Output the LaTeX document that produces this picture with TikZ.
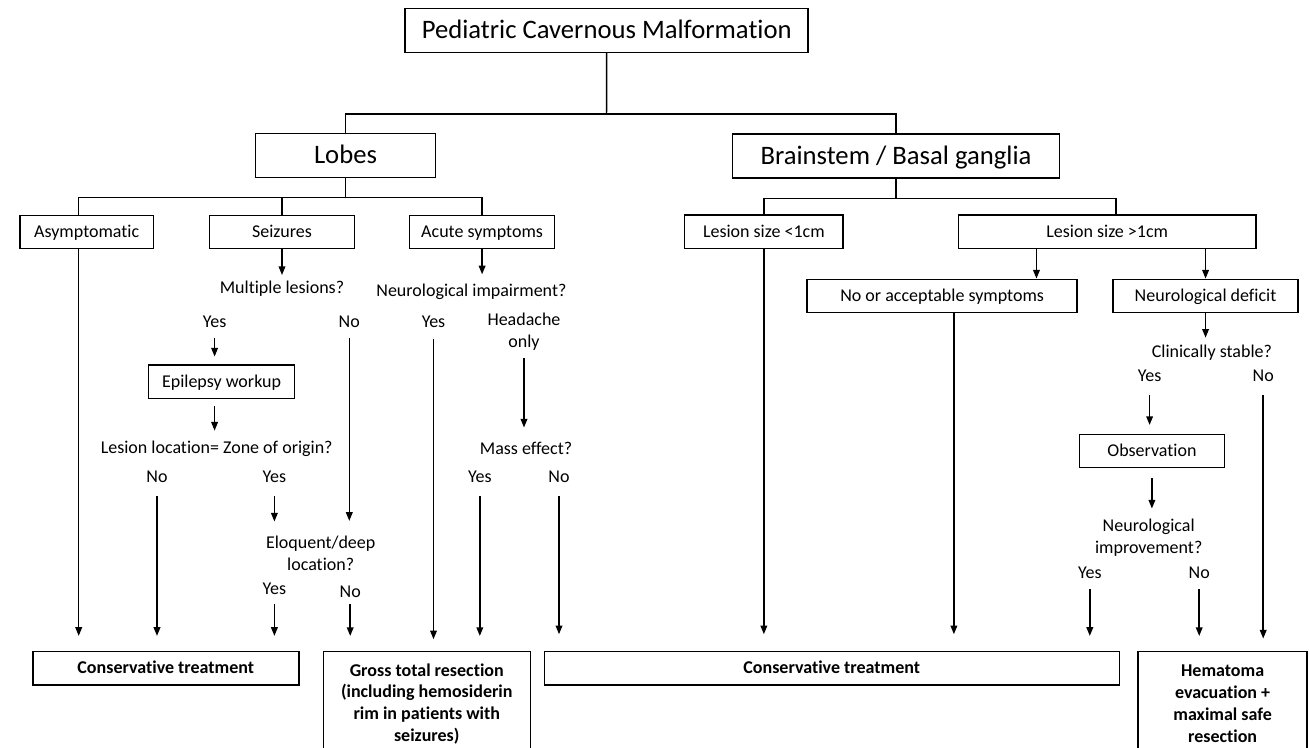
\documentclass[tikz,border=0pt]{standalone}
\usepackage{fontspec}
\setmainfont{Carlito}[Ligatures=NoCommon]
\usetikzlibrary{arrows.meta, positioning, calc}

\tikzset{
  box/.style={rectangle,draw,line width=1.1pt,inner sep=0pt,align=center},
  bigbox/.style={box,font=\fontsize{20}{24}\selectfont,minimum height=33pt,text height=15pt,text depth=2.4pt},
  smallbox/.style={box,font=\fontsize{13.5}{16.3}\selectfont,minimum height=25pt,text height=10.5pt,text depth=2pt},
  endbox/.style={box,font=\fontsize{13.5}{16.3}\selectfont\bfseries},
  question/.style={font=\fontsize{13.5}{16.3}\selectfont,align=center,inner sep=0pt},
  answer/.style={question,text height=10.5pt,text depth=2pt},
  conn/.style={line width=1.1pt},
  arr/.style={conn,-{Triangle[length=6.5pt,width=5pt]}}
}

\begin{document}
\begin{tikzpicture}[x=0.75pt,y=-0.75pt]
    \useasboundingbox (0,0) rectangle (1309,748);

    % Radice
    \node[bigbox,minimum width=302.25pt] (root) at (606.7,30.3) {Pediatric Cavernous Malformation};
    \node[bigbox,minimum width=135pt] (lobes) at (345.5,155.5) {Lobes};
    \node[bigbox,minimum width=245.25pt] (brain) at (896,155.8) {Brainstem / Basal ganglia};
    \coordinate (rootsplit) at (606.5,114);
    \draw[conn] (root.south) -- (rootsplit);
    \draw[conn] (lobes.north) |- (rootsplit) -| (brain.north);

    % Lobi
    \node[smallbox,minimum width=100.35pt] (asym) at (86.7,232) {Asymptomatic};
    \node[smallbox,minimum width=108.6pt] (seiz) at (282,232) {Seizures};
    \node[smallbox,minimum width=108.9pt] (acute) at (482.1,232) {Acute symptoms};
    \coordinate (lobesplit) at (345.5,197.7);
    \draw[conn] (lobes.south) -- (lobesplit);
    \draw[conn] ([xshift=-6pt]asym.north) |- (lobesplit) -| (acute.north);
    \draw[conn] (seiz.north) -- (seiz.north |- lobesplit);

    % Tronco / gangli
    \node[smallbox,minimum width=119pt] (small) at (763.85,231.7) {Lesion size <1cm};
    \node[smallbox,minimum width=223.1pt] (large) at (1107.25,231.7) {Lesion size >1cm};
    \coordinate (brainsplit) at (896,198.3);
    \draw[conn] (brain.south) -- (brainsplit);
    \draw[conn] (small.north) |- (brainsplit) -| ([xshift=6.5pt]large.north);

    % Trattamenti
    \node[endbox,minimum width=199.5pt,minimum height=25pt,text height=10.5pt,text depth=2pt] (cons1) at (165.8,668.3) {Conservative treatment};
    \node[endbox,minimum width=155.25pt,minimum height=78pt] (gtr) at (426.75,703.7) {Gross total resection\\(including hemosiderin\\rim in patients with\\seizures)};
    \node[endbox,minimum width=431.25pt,minimum height=25pt,text height=10.5pt,text depth=2pt] (cons2) at (831.75,668.3) {Conservative treatment};
    \node[endbox,minimum width=126.6pt,minimum height=78pt] (hema) at (1222.6,703.7) {Hematoma\\evacuation +\\maximal safe\\resection};

    % Asintomatico
    \draw[arr,shorten >=11.25pt] ([xshift=-6pt]asym.south) -- ([xshift=-6pt]asym.south |- cons1.north);

    % Crisi
    \node[question] (mult) at (282,288.3) {Multiple lesions?};
    \node[answer] (yesM) at (214.6,321.7) {Yes};
    \node[answer] (noM) at (349.3,321.7) {No};
    \node[smallbox,minimum width=109.5pt] (epi) at (221.6,381.7) {Epilepsy workup};
    \node[question] (loc) at (216.7,448.3) {Lesion location= Zone of origin?};
    \node[answer] (noL) at (157,476.7) {No};
    \node[answer] (yesL) at (274.4,476.7) {Yes};
    \node[question] (eloq) at (320.7,553) {Eloquent/deep\\location?};
    \node[answer] (yesE) at (274.4,589.3) {Yes};
    \node[answer] (noE) at (350.2,592) {No};

    \draw[arr,shorten >=4pt] (seiz) -- (mult);
    \draw[arr,shorten <=6pt,shorten >=5.8pt] (yesM.south) -- (yesM.south |- epi.north);
    \draw[arr,shorten <=6pt,shorten >=11pt] (noM.south) -- (noM.south |- eloq.north);
    \draw[arr,shorten <=5.5pt,shorten >=7.2pt] ([xshift=-5.25pt]epi.south) -- ([xshift=-5.25pt]epi.south |- loc.north);
    \draw[arr,shorten <=8.25pt,shorten >=11.25pt] (noL.south) -- (noL.south |- cons1.north);
    \draw[arr,shorten <=8.25pt,shorten >=10.5pt] (yesL.south) -- (yesL.south |- eloq.north);
    \draw[arr,shorten <=4.5pt,shorten >=11.25pt] (yesE.south) -- (yesE.south |- cons1.north);
    \draw[arr,shorten <=2.5pt,shorten >=11.25pt] (noE.south) -- (noE.south |- gtr.north);

    % Sintomi acuti
    \node[question] (neuimp) at (471.4,291.7) {Neurological impairment?};
    \node[answer] (yesA) at (433.5,321.7) {Yes};
    \node[question] (head) at (524,331.7) {Headache\\only};
    \node[question] (mass) at (526,448.3) {Mass effect?};
    \node[answer] (yesMa) at (479.8,476.7) {Yes};
    \node[answer] (noMa) at (559,476.7) {No};

    \draw[arr,shorten >=7pt] (acute.south) -- (acute.south |- neuimp.north);
    \draw[arr,shorten <=6.4pt,shorten >=8.8pt] (yesA.south) -- (yesA.south |- gtr.north);
    \draw[arr,shorten <=5.8pt,shorten >=10.7pt] (head.south) -- (head.south |- mass.north);
    \draw[arr,shorten <=8.25pt,shorten >=11.25pt] (yesMa.south) -- (yesMa.south |- gtr.north);
    \draw[arr,shorten <=8.25pt,shorten >=12.5pt] (noMa.south) -- (noMa.south |- cons2.north);

    % Lesioni <1cm e >1cm
    \node[smallbox,minimum width=202.65pt] (noacc) at (942.1,296) {No or acceptable symptoms};
    \node[smallbox,minimum width=138.8pt] (deficit) at (1205.55,296) {Neurological deficit};
    \draw[arr] ([xshift=-53.1pt]large.south) -- ([xshift=-53.1pt]large.south |- noacc.north);
    \draw[arr] (deficit.north |- large.south) -- (deficit.north);
    \draw[arr,shorten >=12.5pt] (small.south) -- (small.south |- cons2.north);
    \draw[arr,shorten >=12.5pt] ([xshift=8.85pt]noacc.south) -- ([xshift=8.85pt]noacc.south |- cons2.north);

    % Deficit neurologico
    \node[question] (stable) at (1211.9,352.7) {Clinically stable?};
    \node[answer] (yesS) at (1149.6,376) {Yes};
    \node[answer] (noS) at (1263.2,376) {No};
    \node[smallbox,minimum width=108.9pt] (obs) at (1151.9,451) {Observation};
    \node[question] (improv) at (1148.7,538) {Neurological\\improvement?};
    \node[answer] (yesI) at (1089.8,572.7) {Yes};
    \node[answer] (noI) at (1199.2,572.7) {No};

    \draw[arr,shorten >=5.3pt] (deficit.south) -- (deficit.south |- stable.north);
    \draw[arr,shorten <=7.7pt,shorten >=6.5pt] (yesS.south) -- (yesS.south |- obs.north);
    \draw[arr,shorten <=7.7pt,shorten >=9.3pt] (noS.south) -- (noS.south |- hema.north);
    \draw[arr,shorten <=7.5pt,shorten >=8pt] (obs.south) -- (obs.south |- improv.north);
    \draw[arr,shorten <=5.7pt,shorten >=11.25pt] (yesI.south) -- (yesI.south |- cons2.north);
    \draw[arr,shorten <=5.7pt,shorten >=11.25pt] (noI.south) -- (noI.south |- hema.north);
\end{tikzpicture}
\end{document}
